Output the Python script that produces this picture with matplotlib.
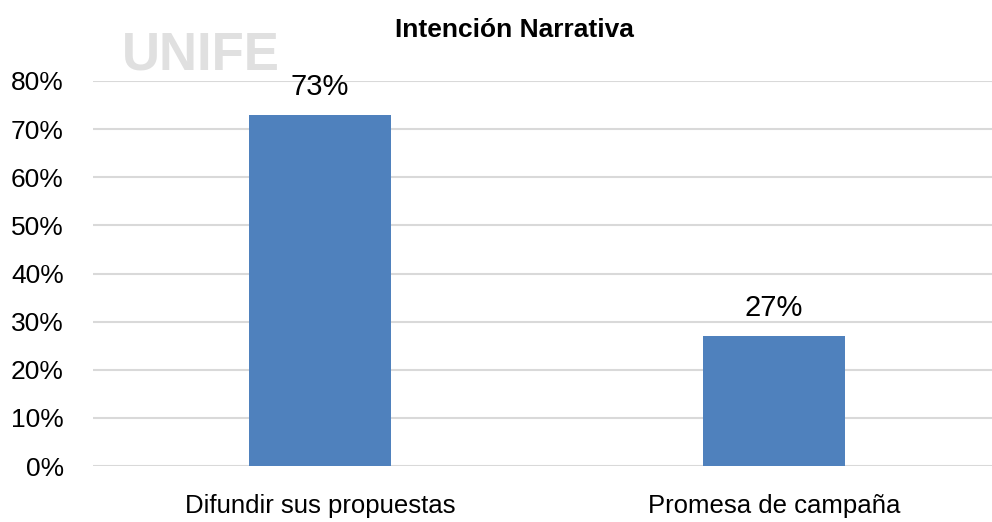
import matplotlib.pyplot as plt
from matplotlib.ticker import PercentFormatter

categories = ['Difundir sus propuestas', 'Promesa de campaña']
values = [0.73, 0.27]
labels = ['73%', '27%']
yticks = [0, 0.1, 0.2, 0.3, 0.4, 0.5, 0.6, 0.7, 0.8]

plt.rcParams['font.family'] = ['Liberation Sans', 'DejaVu Sans']

fig = plt.figure(figsize=(9.92, 5.22), dpi=100)
ax = fig.add_axes([93 / 992, 56 / 522, 1 - 93 / 992, (466 - 81) / 522])

# faint watermark from the scanned page
fig.text(122 / 992, 1 - 56 / 522, 'UNIFE', fontsize=38, fontweight='bold',
         color='#e0e0e0', va='center', ha='left', zorder=0)

x = range(len(categories))
bars = ax.bar(x, values, width=0.313, color='#4f81bd', zorder=3)
for b, lab in zip(bars, labels):
    ax.annotate(lab, (b.get_x() + b.get_width() / 2, b.get_height()),
                xytext=(0, 10), textcoords='offset points',
                ha='center', va='bottom', fontsize=21, color='#000000')

ax.set_xlim(-0.5, 1.48)
ax.set_ylim(0, 0.8)
ax.set_yticks(yticks)
ax.yaxis.set_major_formatter(PercentFormatter(1.0, decimals=0))
ax.set_xticks(list(x))
ax.set_xticklabels(categories)
ax.tick_params(axis='both', length=0, colors='#000000')
ax.tick_params(axis='x', pad=20, labelsize=18.5)
ax.tick_params(axis='y', pad=21, labelsize=19)
ax.grid(axis='y', color='#d9d9d9', linewidth=1.5, zorder=0)
for s in ax.spines.values():
    s.set_visible(False)
ax.patch.set_alpha(0)

fig.text(514 / 992, 1 - 30 / 522, 'Intención Narrativa', ha='center', va='center',
         fontsize=19, fontweight='bold')

fig.savefig('out.png', dpi=100)
